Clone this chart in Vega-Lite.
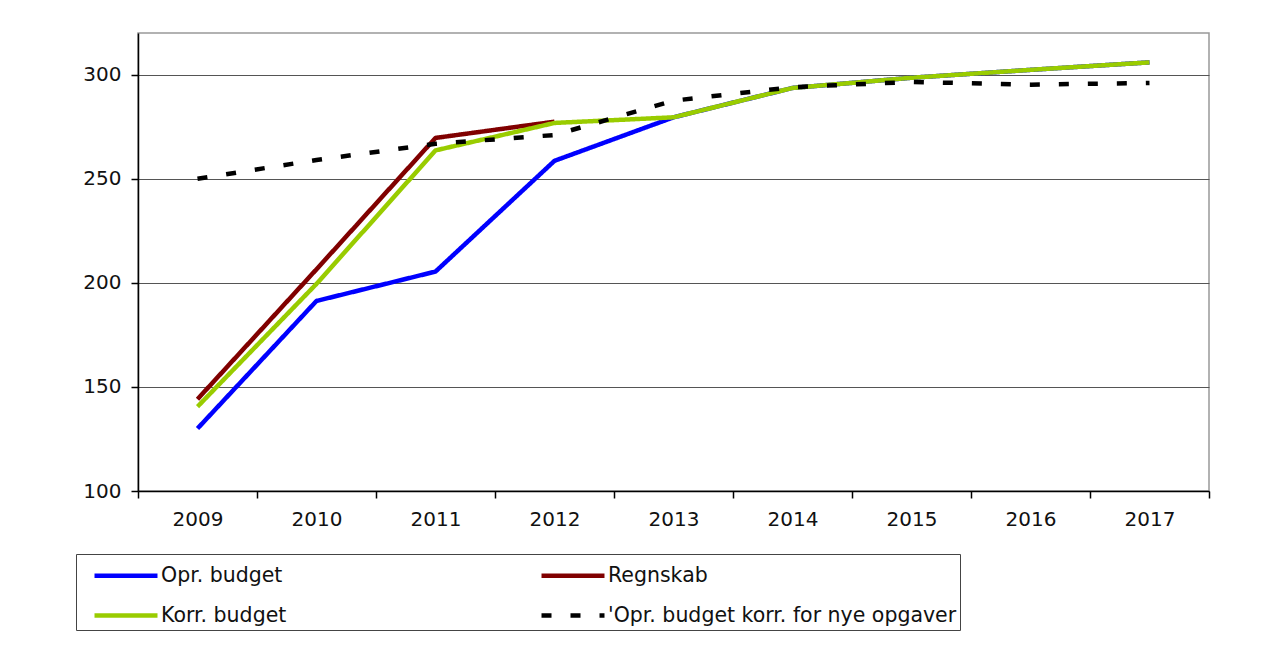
{
  "$schema": "https://vega.github.io/schema/vega-lite/v6.json",
  "autosize": "none",
  "width": 1071,
  "height": 458,
  "padding": {"left": 138, "top": 33, "right": 56, "bottom": 165},
  "background": "white",
  "config": {
    "font": "DejaVu Sans",
    "view": {"stroke": "#999999", "strokeWidth": 1.5}
  },
  "data": {
    "values": [
      {"year": "2009", "series": "Opr. budget", "value": 130},
      {"year": "2010", "series": "Opr. budget", "value": 191.3},
      {"year": "2011", "series": "Opr. budget", "value": 205.4},
      {"year": "2012", "series": "Opr. budget", "value": 258.6},
      {"year": "2013", "series": "Opr. budget", "value": 279.5},
      {"year": "2014", "series": "Opr. budget", "value": 293.6},
      {"year": "2015", "series": "Opr. budget", "value": 298.5},
      {"year": "2016", "series": "Opr. budget", "value": 302.3},
      {"year": "2017", "series": "Opr. budget", "value": 305.9},
      {"year": "2009", "series": "Regnskab", "value": 144.1},
      {"year": "2010", "series": "Regnskab", "value": 206.5},
      {"year": "2011", "series": "Regnskab", "value": 269.6},
      {"year": "2012", "series": "Regnskab", "value": 277.4},
      {"year": "2009", "series": "Korr. budget", "value": 140.5},
      {"year": "2010", "series": "Korr. budget", "value": 199.5},
      {"year": "2011", "series": "Korr. budget", "value": 263.6},
      {"year": "2012", "series": "Korr. budget", "value": 276.8},
      {"year": "2013", "series": "Korr. budget", "value": 279.5},
      {"year": "2014", "series": "Korr. budget", "value": 293.6},
      {"year": "2015", "series": "Korr. budget", "value": 298.5},
      {"year": "2016", "series": "Korr. budget", "value": 302.3},
      {"year": "2017", "series": "Korr. budget", "value": 305.9},
      {"year": "2009", "series": "'Opr. budget korr. for nye opgaver", "value": 250},
      {"year": "2010", "series": "'Opr. budget korr. for nye opgaver", "value": 259},
      {"year": "2011", "series": "'Opr. budget korr. for nye opgaver", "value": 266.8},
      {"year": "2012", "series": "'Opr. budget korr. for nye opgaver", "value": 271},
      {"year": "2013", "series": "'Opr. budget korr. for nye opgaver", "value": 287.5},
      {"year": "2014", "series": "'Opr. budget korr. for nye opgaver", "value": 294},
      {"year": "2015", "series": "'Opr. budget korr. for nye opgaver", "value": 296.5},
      {"year": "2016", "series": "'Opr. budget korr. for nye opgaver", "value": 295.2},
      {"year": "2017", "series": "'Opr. budget korr. for nye opgaver", "value": 296}
    ]
  },
  "mark": {"type": "line", "strokeWidth": 4.5, "strokeCap": "butt", "strokeJoin": "round"},
  "encoding": {
    "x": {
      "field": "year",
      "type": "ordinal",
      "scale": {"type": "band", "paddingInner": 0, "paddingOuter": 0},
      "axis": {
        "title": null,
        "labelAngle": 0,
        "labelFont": "DejaVu Sans",
        "labelFontSize": 20,
        "labelColor": "#111111",
        "labelPadding": 11,
        "tickBand": "extent",
        "tickSize": 7,
        "tickColor": "#000000",
        "tickWidth": 1.5,
        "domainColor": "#000000",
        "domainWidth": 1.5,
        "grid": false
      }
    },
    "y": {
      "field": "value",
      "type": "quantitative",
      "scale": {"domain": [100, 320], "nice": false, "zero": false},
      "axis": {
        "title": null,
        "values": [100, 150, 200, 250, 300],
        "labelFont": "DejaVu Sans",
        "labelFontSize": 20,
        "labelColor": "#111111",
        "labelPadding": 10,
        "tickSize": 7,
        "tickColor": "#000000",
        "tickWidth": 1.5,
        "domainColor": "#000000",
        "domainWidth": 1.5,
        "grid": true,
        "gridColor": "#555555",
        "gridWidth": 1.2
      }
    },
    "color": {
      "field": "series",
      "type": "nominal",
      "sort": ["Opr. budget", "Regnskab", "Korr. budget", "'Opr. budget korr. for nye opgaver"],
      "scale": {
        "domain": ["Opr. budget", "Regnskab", "Korr. budget", "'Opr. budget korr. for nye opgaver"],
        "range": ["#0000ff", "#800000", "#99cc00", "#000000"]
      },
      "legend": {
        "title": null,
        "orient": "none",
        "legendX": -62,
        "legendY": 521,
        "direction": "horizontal",
        "columns": 2,
        "gridAlign": "each",
        "columnPadding": 240,
        "rowPadding": 11,
        "padding": 3.5,
        "strokeColor": "#444444",
        "symbolType": "M-2,0L2,0",
        "symbolSize": 992,
        "symbolStrokeWidth": 4.5,
        "symbolOffset": 28.5,
        "labelFont": "DejaVu Sans",
        "labelFontSize": 20.5,
        "labelColor": "#111111",
        "labelOffset": 17,
        "labelLimit": 500
      }
    },
    "strokeDash": {
      "field": "series",
      "type": "nominal",
      "sort": ["Opr. budget", "Regnskab", "Korr. budget", "'Opr. budget korr. for nye opgaver"],
      "scale": {
        "domain": ["Opr. budget", "Regnskab", "Korr. budget", "'Opr. budget korr. for nye opgaver"],
        "range": [[1, 0], [1, 0], [1, 0], [10, 19]]
      },
      "legend": null
    }
  }
}
